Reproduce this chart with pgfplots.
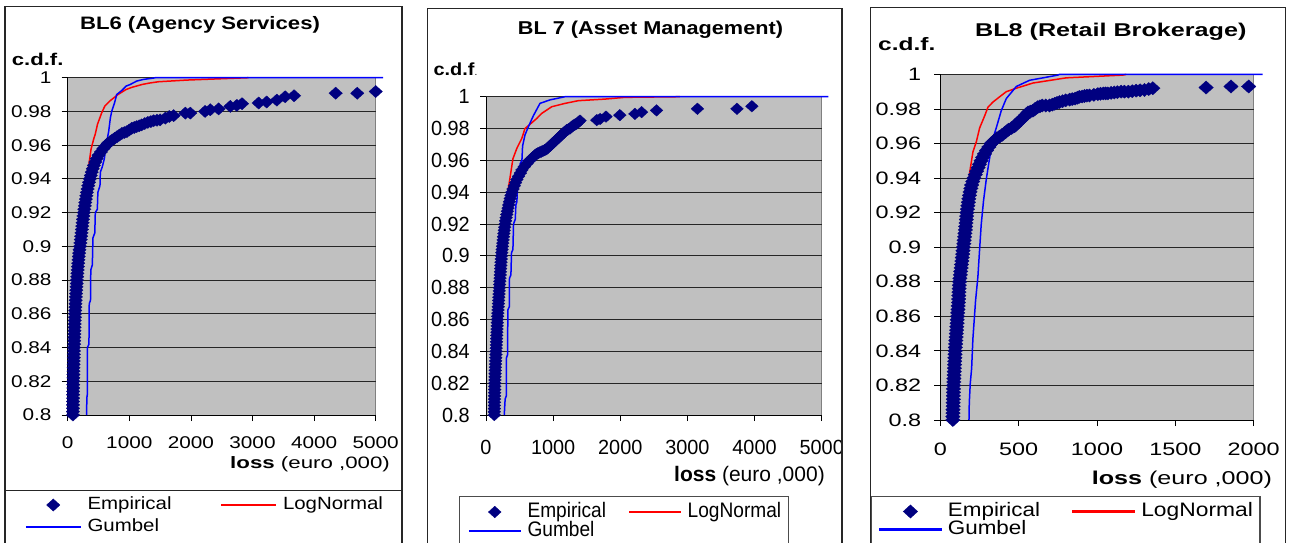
\documentclass[border=0pt]{standalone}
\usepackage{fontspec}
\setmainfont{Liberation Sans}
\usepackage{graphicx}
\usepackage{pgfplots}
\pgfplotsset{compat=1.18}
\definecolor{plotgray}{HTML}{C0C0C0}
\definecolor{empblue}{HTML}{000080}
\definecolor{lnred}{HTML}{FF0000}
\definecolor{gbblue}{HTML}{0000FF}
\newcommand{\fs}[1]{\fontsize{#1}{#1}\selectfont}
\newcommand{\sx}[2]{\scalebox{#1}[1]{#2}}
\pgfdeclareplotmark{wdiamond}{%
  \pgfpathmoveto{\pgfqpoint{0pt}{\pgfplotmarksize}}%
  \pgfpathlineto{\pgfqpoint{1.1\pgfplotmarksize}{0pt}}%
  \pgfpathlineto{\pgfqpoint{0pt}{-\pgfplotmarksize}}%
  \pgfpathlineto{\pgfqpoint{-1.1\pgfplotmarksize}{0pt}}%
  \pgfpathclose
  \pgfusepathqfillstroke
}
\pgfplotsset{
  cdfbase/.style={
    scale only axis, axis lines=left,
    axis line style={-, black, line width=1pt},
    axis background/.style={fill=plotgray, draw=gray, line width=1pt},
    ymin=0.8, ymax=1,
    ytick={0.8,0.82,0.84,0.86,0.88,0.9,0.92,0.94,0.96,0.98,1},
    ymajorgrids, grid style={black!85, line width=0.9pt},
    tick align=outside, major tick length=6pt,
    tick style={black, line width=0.8pt},
    clip=false, scaled ticks=false,
    /pgf/number format/1000 sep={},
    /pgf/number format/assume math mode=true,
    xticklabel style={anchor=north, inner sep=0pt},
    yticklabel style={anchor=east, inner sep=0pt},
    legend columns=2,
    legend cell align=left,
  },
  emp/.style={only marks, mark=wdiamond, mark size=6.1pt,
    mark options={fill=empblue, draw=empblue, line width=0.3pt}},
  lnorm/.style={draw=lnred, line width=1.5pt, mark=none},
  gumb/.style={draw=gbblue, line width=1.5pt, mark=none},
}
\begin{document}
\begin{tikzpicture}[x=1pt,y=1pt]
\useasboundingbox (0pt,0pt) rectangle (1291pt,542pt);
\clip (0pt,0pt) rectangle (1291pt,542pt);
\fill[white] (0pt,0pt) rectangle (1291pt,542pt);

% ---------------- Panel 1 ----------------
\begin{axis}[cdfbase, at={(67.7pt,127pt)}, anchor=south west,
  width=308pt, height=337.3pt, xmin=0, xmax=5000,
  xtick={0,1000,2000,3000,4000,5000},
  xticklabel={\sx{1.22}{\fs{17}\pgfmathprintnumber{\tick}}},
  yticklabel={\sx{1.22}{\fs{17}\pgfmathprintnumber{\tick}}},
  xticklabel style={yshift=-15pt},
  yticklabel style={xshift=-10pt},
  legend image code/.code={\draw[mark repeat=2,mark phase=2,#1] plot coordinates {(0pt,0pt) (27.5pt,0pt) (55pt,0pt)};},
  legend style={draw=none, fill=none, inner sep=0pt, outer sep=0pt,
    at={(-0.1386,-0.2424)}, anchor=north west, row sep=5.5pt, column sep=0pt,
    nodes={inner sep=0pt, outer sep=0pt, text height=13pt, text depth=3.5pt}},
]
\addplot[lnorm, forget plot] coordinates {(115,0.800)(130,0.82)(145,0.84)(160,0.86)(180,0.88)(200,0.90)(230,0.92)(290,0.940)(340,0.9474)(379,0.9576)(421,0.9635)(447,0.9665)(484,0.9724)(553,0.9793)(605,0.9833)(684,0.9862)(816,0.990)(947,0.993)(1043,0.9943)(1210,0.996)(1340,0.9969)(1474,0.9976)(1935,0.9986)(2500,0.9994)(2935,1.0)};
\addplot[emp] coordinates {(85,0.800)(85,0.802)(86,0.804)(86,0.806)(87,0.808)(87,0.810)(88,0.812)(89,0.814)(90,0.816)(90,0.818)(91,0.820)(92,0.822)(93,0.824)(94,0.826)(95,0.828)(96,0.830)(98,0.832)(99,0.834)(100,0.836)(102,0.838)(103,0.840)(105,0.842)(106,0.844)(108,0.846)(109,0.848)(111,0.850)(112,0.852)(114,0.854)(115,0.856)(118,0.858)(120,0.860)(122,0.862)(125,0.864)(127,0.866)(130,0.868)(133,0.870)(136,0.872)(140,0.874)(143,0.876)(147,0.878)(150,0.880)(154,0.882)(158,0.884)(162,0.886)(166,0.888)(170,0.890)(175,0.892)(180,0.894)(185,0.896)(192,0.898)(200,0.900)(206,0.902)(212,0.904)(218,0.906)(224,0.908)(230,0.910)(236,0.912)(242,0.914)(248,0.916)(255,0.918)(262,0.920)(270,0.922)(278,0.924)(286,0.926)(294,0.928)(303,0.930)(312,0.932)(323,0.934)(334,0.936)(347,0.938)(360,0.940)(375,0.942)(390,0.944)(407,0.946)(425,0.948)(447,0.950)(470,0.952)(500,0.954)(540,0.956)(580,0.958)(615,0.9595)(650,0.961)(685,0.962)(720,0.963)(760,0.964)(800,0.965)(840,0.966)(880,0.967)(920,0.9675)(960,0.968)(1000,0.969)(1040,0.970)(1080,0.9705)(1120,0.971)(1160,0.9715)(1200,0.972)(1250,0.9728)(1300,0.9735)(1350,0.974)(1395,0.9745)(1450,0.9748)(1500,0.975)(1585,0.976)(1650,0.977)(1720,0.9775)(1910,0.979)(1990,0.979)(2230,0.980)(2315,0.981)(2450,0.9815)(2640,0.983)(2745,0.9836)(2830,0.9846)(3100,0.985)(3230,0.9856)(3395,0.9867)(3530,0.9887)(3675,0.9893)(4350,0.9908)(4700,0.9908)(5000,0.9918)};
\addlegendentry{\hspace*{6pt}\makebox[133pt][l]{\sx{1.155}{\fs{17.7}Empirical}}}
\addlegendimage{legend image code/.code={\draw[draw=lnred, line width=1.5pt] (0pt,0pt) -- (55pt,0pt);}}
\addlegendentry{\hspace*{6pt}\sx{1.155}{\fs{17.7}LogNormal}}
\addplot[gumb, legend image code/.code={\draw[draw=gbblue, line width=1.5pt] (0pt,0pt) -- (55pt,0pt);}] coordinates {(308,0.800)(310,0.810)(318,0.812)(320,0.840)(345,0.842)(350,0.866)(370,0.868)(375,0.886)(400,0.889)(410,0.905)(440,0.908)(448,0.920)(481,0.922)(490,0.932)(524,0.936)(530,0.944)(560,0.947)(595,0.952)(622,0.960)(665,0.968)(692,0.976)(714,0.980)(760,0.985)(795,0.990)(881,0.9925)(947,0.995)(1016,0.996)(1120,0.998)(1232,0.999)(1395,0.9998)(1422,1.0)(5120,1.0)};
\addlegendentry{\hspace*{6pt}\makebox[133pt][l]{\sx{1.155}{\fs{17.7}Gumbel}}}
\end{axis}

% ---------------- Panel 2 ----------------
\begin{axis}[cdfbase, at={(486pt,127pt)}, anchor=south west,
  width=335.7pt, height=318.3pt, xmin=0, xmax=5000,
  xtick={0,1000,2000,3000,4000,5000},
  xticklabel={\sx{0.97}{\fs{20.5}\pgfmathprintnumber{\tick}}},
  yticklabel={\sx{0.97}{\fs{20.5}\pgfmathprintnumber{\tick}}},
  xticklabel style={yshift=-19pt},
  yticklabel style={xshift=-10pt},
  legend image code/.code={\draw[mark repeat=2,mark phase=2,#1] plot coordinates {(0pt,0pt) (26pt,0pt) (52pt,0pt)};},
  legend style={draw=none, fill=none, inner sep=0pt, outer sep=0pt,
    at={(-0.0536,-0.2749)}, anchor=north west, row sep=0pt, column sep=0pt,
    nodes={inner sep=0pt, outer sep=0pt, text height=15pt, text depth=4pt}},
]
\addplot[lnorm, forget plot] coordinates {(153,0.800)(170,0.82)(190,0.84)(210,0.86)(230,0.88)(255,0.90)(285,0.92)(322,0.9395)(361,0.950)(401,0.961)(460,0.9676)(532,0.9737)(581,0.980)(670,0.9832)(755,0.9863)(830,0.9895)(979,0.9937)(1177,0.9958)(1375,0.9975)(1772,0.9985)(2070,0.9996)(2886,1.0)};
\addplot[emp, mark size=5.8pt] coordinates {(124,0.800)(124,0.802)(125,0.804)(125,0.806)(126,0.808)(127,0.810)(128,0.812)(129,0.814)(130,0.816)(131,0.818)(132,0.820)(133,0.822)(135,0.824)(136,0.826)(138,0.828)(140,0.830)(142,0.832)(144,0.834)(146,0.836)(148,0.838)(150,0.840)(152,0.842)(154,0.844)(156,0.846)(158,0.848)(160,0.850)(162,0.852)(164,0.854)(166,0.856)(168,0.858)(170,0.860)(173,0.862)(176,0.864)(179,0.866)(182,0.868)(185,0.870)(188,0.872)(191,0.874)(194,0.876)(197,0.878)(200,0.880)(203,0.882)(206,0.884)(209,0.886)(212,0.888)(215,0.890)(218,0.892)(221,0.894)(224,0.896)(227,0.898)(230,0.900)(235,0.902)(240,0.904)(245,0.906)(250,0.908)(255,0.910)(260,0.912)(266,0.914)(272,0.916)(278,0.918)(285,0.920)(292,0.922)(300,0.924)(309,0.926)(318,0.928)(328,0.930)(338,0.932)(349,0.934)(360,0.936)(372,0.938)(385,0.940)(403,0.942)(421,0.944)(440,0.946)(460,0.948)(485,0.950)(512,0.952)(535,0.954)(570,0.956)(610,0.958)(650,0.960)(675,0.961)(700,0.962)(725,0.963)(750,0.964)(775,0.9645)(800,0.965)(825,0.9655)(850,0.966)(875,0.9665)(900,0.967)(925,0.968)(950,0.969)(975,0.970)(1000,0.971)(1025,0.972)(1050,0.973)(1075,0.974)(1100,0.975)(1125,0.976)(1150,0.977)(1175,0.978)(1200,0.979)(1225,0.9795)(1250,0.980)(1275,0.981)(1300,0.982)(1325,0.9825)(1350,0.983)(1375,0.984)(1400,0.985)(1650,0.9853)(1700,0.986)(1787,0.9875)(1993,0.9884)(2218,0.9892)(2317,0.9903)(2540,0.9914)(3149,0.9924)(3738,0.9924)(3960,0.994)};
\addlegendentry{\hspace*{6pt}\makebox[101pt][l]{\sx{0.91}{\fs{21}Empirical}}}
\addlegendimage{legend image code/.code={\draw[draw=lnred, line width=1.5pt] (0pt,0pt) -- (52pt,0pt);}}
\addlegendentry{\hspace*{5.7pt}\sx{0.91}{\fs{21}LogNormal}}
\addplot[gumb, legend image code/.code={\draw[draw=gbblue, line width=1.5pt] (0pt,0pt) -- (52pt,0pt);}] coordinates {(272,0.800)(285,0.810)(302,0.812)(305,0.836)(322,0.838)(325,0.866)(347,0.868)(350,0.886)(371,0.888)(380,0.902)(401,0.904)(410,0.920)(436,0.923)(445,0.932)(460,0.934)(470,0.944)(500,0.947)(510,0.958)(535,0.960)(545,0.969)(560,0.972)(581,0.976)(630,0.981)(705,0.988)(804,0.9958)(953,0.998)(1177,1.0)(5100,1.0)};
\addlegendentry{\hspace*{6pt}\makebox[101pt][l]{\sx{0.91}{\fs{21}Gumbel}}}
\end{axis}

% ---------------- Panel 3 ----------------
\begin{axis}[cdfbase, at={(940.3pt,122pt)}, anchor=south west,
  width=313.4pt, height=345.6pt, xmin=0, xmax=2000,
  xtick={0,500,1000,1500,2000},
  xticklabel={\sx{1.3}{\fs{18}\pgfmathprintnumber{\tick}}},
  yticklabel={\sx{1.3}{\fs{18}\pgfmathprintnumber{\tick}}},
  xticklabel style={yshift=-17pt},
  yticklabel style={xshift=-13pt},
  legend image code/.code={\draw[mark repeat=2,mark phase=2,#1] plot coordinates {(0pt,0pt) (31pt,0pt) (62pt,0pt)};},
  legend style={draw=none, fill=none, inner sep=0pt, outer sep=0pt,
    at={(-0.1966,-0.2387)}, anchor=north west, row sep=0pt, column sep=0pt,
    nodes={inner sep=0pt, outer sep=0pt, text height=14.2pt, text depth=3.8pt}},
]
\addplot[lnorm, forget plot] coordinates {(80,0.800)(95,0.82)(110,0.84)(125,0.86)(140,0.88)(150,0.90)(165,0.92)(187,0.943)(208,0.955)(230,0.961)(251,0.969)(283,0.976)(304,0.981)(336,0.984)(378,0.987)(421,0.990)(485,0.992)(591,0.995)(803,0.998)(1165,0.9996)(1186,1.0)};
\addplot[emp, mark size=6.6pt] coordinates {(80,0.800)(80,0.802)(81,0.804)(81,0.806)(82,0.808)(82,0.810)(83,0.812)(83,0.814)(84,0.816)(84,0.818)(85,0.820)(86,0.822)(87,0.824)(88,0.826)(89,0.828)(90,0.830)(91,0.832)(92,0.834)(93,0.836)(94,0.838)(95,0.840)(96,0.842)(98,0.844)(99,0.846)(101,0.848)(102,0.850)(104,0.852)(105,0.854)(107,0.856)(108,0.858)(110,0.860)(111,0.862)(113,0.864)(114,0.866)(116,0.868)(117,0.870)(118,0.872)(119,0.874)(120,0.876)(121,0.878)(123,0.880)(125,0.882)(128,0.884)(130,0.886)(133,0.888)(135,0.890)(138,0.892)(140,0.894)(143,0.896)(145,0.898)(147,0.900)(150,0.902)(152,0.904)(155,0.906)(157,0.908)(160,0.910)(162,0.912)(164,0.914)(166,0.916)(168,0.918)(170,0.920)(173,0.922)(176,0.924)(179,0.926)(182,0.928)(186,0.930)(190,0.932)(195,0.934)(200,0.936)(207,0.938)(215,0.940)(223,0.942)(232,0.944)(241,0.946)(250,0.948)(260,0.950)(270,0.952)(282,0.954)(295,0.956)(310,0.958)(325,0.960)(343,0.9615)(360,0.963)(378,0.964)(395,0.965)(415,0.9665)(435,0.968)(455,0.969)(474,0.970)(490,0.9715)(505,0.973)(518,0.974)(531,0.975)(545,0.9765)(560,0.978)(575,0.9785)(591,0.979)(605,0.980)(620,0.981)(635,0.9815)(650,0.982)(673,0.982)(697,0.982)(715,0.9825)(730,0.983)(745,0.9835)(761,0.984)(780,0.9845)(800,0.985)(825,0.9854)(842,0.9857)(860,0.986)(875,0.9865)(888,0.987)(905,0.9872)(920,0.9875)(935,0.9877)(952,0.9878)(980,0.9882)(1005,0.9886)(1022,0.9888)(1040,0.989)(1055,0.989)(1069,0.989)(1090,0.9893)(1110,0.9895)(1130,0.9897)(1154,0.990)(1175,0.990)(1200,0.990)(1225,0.9903)(1250,0.9906)(1275,0.9908)(1303,0.991)(1330,0.9915)(1356,0.992)(1696,0.9924)(1855,0.993)(1968,0.993)};
\addlegendentry{\hspace*{5.7pt}\makebox[124pt][l]{\sx{1.15}{\fs{19.5}Empirical}}}
\addlegendimage{legend image code/.code={\fill[lnred] (0pt,-0.9pt) rectangle (62pt,0.9pt);}}
\addlegendentry{\hspace*{7pt}\sx{1.17}{\fs{19.5}LogNormal}}
\addplot[gumb, legend image code/.code={\fill[gbblue] (0pt,-0.9pt) rectangle (62pt,0.9pt);}] coordinates {(183,0.800)(185,0.810)(191,0.821)(200,0.830)(208,0.847)(225,0.869)(240,0.883)(251,0.899)(261,0.913)(276,0.927)(293,0.939)(310,0.949)(336,0.963)(357,0.969)(389,0.979)(421,0.986)(485,0.993)(570,0.9966)(655,0.998)(750,0.9996)(760,1.0)(2057,1.0)};
\addlegendentry{\hspace*{5.7pt}\makebox[124pt][l]{\sx{1.15}{\fs{19.5}Gumbel}}}
\end{axis}

% ---------------- frames and texts ----------------
\draw[black!85, line width=1.3pt] (5pt,535.5pt) rectangle (402pt,-10pt);
\draw[black!85, line width=1.3pt] (5pt,51.3pt) -- (402pt,51.3pt);
\draw[black!85, line width=1.3pt] (427.5pt,533.5pt) rectangle (842pt,-10pt);
\draw[black!70, line width=1.3pt] (459.3pt,45.3pt) rectangle (788.3pt,-10pt);
\draw[black!85, line width=1.3pt] (870.3pt,534.4pt) rectangle (1285.7pt,-10pt);
\draw[black!70, line width=1.3pt] (871.7pt,45.3pt) rectangle (1260pt,-10pt);

\node[anchor=base, inner sep=0pt] at (200pt,512pt) {\sx{1.23}{\fs{18}\bfseries BL6 (Agency Services)}};
\node[anchor=base west, inner sep=0pt] at (11.7pt,476pt) {\sx{1.3}{\fs{17}\bfseries c.d.f.}};
\node[anchor=base west, inner sep=0pt] at (230pt,73.7pt) {\sx{1.35}{\fs{16.5}\textbf{loss} (euro ,000)}};

\node[anchor=base, inner sep=0pt] at (650.5pt,507pt) {\sx{1.166}{\fs{18.6}\bfseries BL 7 (Asset Management)}};
\node[anchor=base west, inner sep=0pt] at (433.3pt,466pt) {\sx{1.14}{\fs{17.5}\bfseries c.d.f}.};
\node[anchor=base west, inner sep=0pt] at (674pt,60.3pt) {\sx{1.0}{\fs{21}\textbf{loss} (euro ,000)}};

\node[anchor=base, inner sep=0pt] at (1110.8pt,505.7pt) {\sx{1.36}{\fs{18.5}\bfseries BL8 (Retail Brokerage)}};
\node[anchor=base west, inner sep=0pt] at (878pt,491.8pt) {\sx{1.36}{\fs{18}\bfseries c.d.f.}};
\node[anchor=base west, inner sep=0pt] at (1091.7pt,57.5pt) {\sx{1.35}{\fs{18.6}\textbf{loss} (euro ,000)}};
\end{tikzpicture}
\end{document}
